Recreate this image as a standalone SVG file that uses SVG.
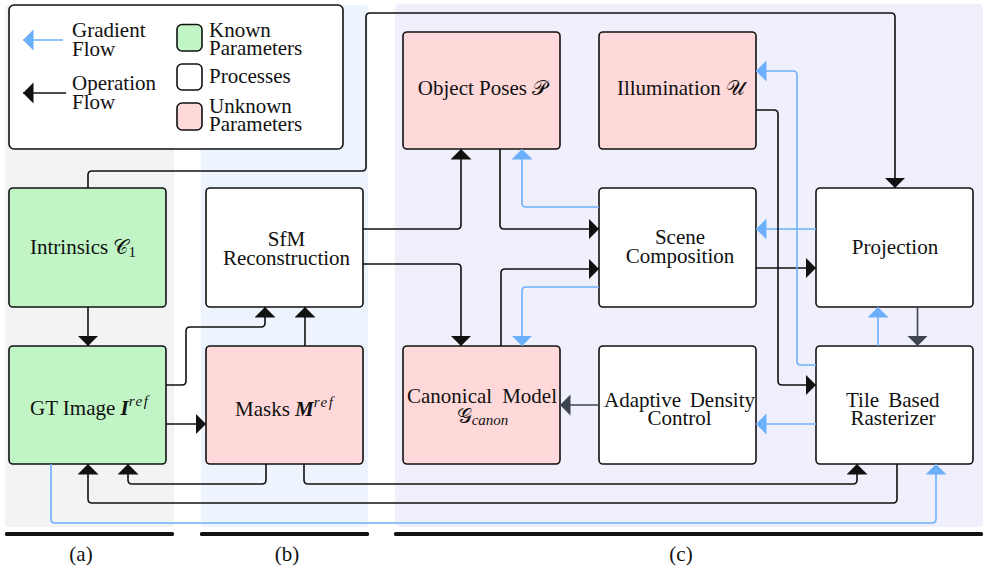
<svg xmlns="http://www.w3.org/2000/svg" width="993" height="570" viewBox="0 0 993 570">
<defs>
<style>
.t{font-family:"Liberation Serif","Times New Roman",serif;font-size:21px;fill:#111}
.m{text-anchor:middle}
.e{text-anchor:end}
.mt{font-family:"DejaVu Serif","DejaVu Sans","Liberation Serif",serif;font-style:normal}
.box{stroke:#111;stroke-width:1.6}
.known{fill:#c2f5c6}
.unk{fill:#ffd9d9}
.proc{fill:#fff}
.op{fill:none;stroke:#111;stroke-width:1.6;marker-end:url(#mk)}
.gr{fill:none;stroke:#6cb0fc;stroke-width:1.6;marker-end:url(#mb)}
.dg{fill:none;stroke:#3d4551;stroke-width:1.6;marker-end:url(#md)}
.it{font-style:italic}
.bi{font-style:italic;font-weight:bold}
.sup{font-style:italic;font-size:15px;letter-spacing:1.5px}
</style>
<marker id="mk" markerUnits="userSpaceOnUse" markerWidth="12" markerHeight="22" refX="10.5" refY="10.5" orient="auto"><path d="M0,0 L10.5,10.5 L0,21 Z" fill="#111"/></marker>
<marker id="mb" markerUnits="userSpaceOnUse" markerWidth="12" markerHeight="22" refX="10.5" refY="10.5" orient="auto"><path d="M0,0 L10.5,10.5 L0,21 Z" fill="#6cb0fc"/></marker>
<marker id="md" markerUnits="userSpaceOnUse" markerWidth="12" markerHeight="22" refX="10.5" refY="10.5" orient="auto"><path d="M0,0 L10.5,10.5 L0,21 Z" fill="#3d4551"/></marker>
</defs>
<rect width="993" height="570" fill="#fff"/>
<g id="panels">
<rect x="5" y="5" width="169" height="522" rx="4" fill="#f2f3f5"/>
<rect x="201" y="5" width="167" height="522" rx="4" fill="#edf4fd"/>
<rect x="395" y="4" width="588" height="523" rx="5" fill="#f0f0fc"/>
<rect x="5" y="532" width="169" height="4" rx="1.5" fill="#111"/>
<rect x="200" y="532" width="169" height="4" rx="1.5" fill="#111"/>
<rect x="394" y="532" width="589" height="4" rx="1.5" fill="#111"/>
<text class="t m" x="81" y="561">(a)</text>
<text class="t m" x="287" y="561">(b)</text>
<text class="t m" x="681" y="561">(c)</text>
</g>
<g id="legend">
<rect x="9" y="5" width="334" height="144" rx="5" fill="#fff" stroke="#111" stroke-width="1.6"/>
<path d="M63,40 H23" class="gr"/>
<path d="M66,93 H23" class="op"/>
<text class="t" x="72" y="37">Gradient</text>
<text class="t" x="72" y="56">Flow</text>
<text class="t" x="72" y="90">Operation</text>
<text class="t" x="72" y="109">Flow</text>
<rect x="177" y="24.5" width="25" height="26.5" rx="5" class="box known"/>
<rect x="177" y="64" width="25" height="26" rx="5" class="box proc"/>
<rect x="177" y="103" width="25" height="27" rx="5" class="box unk"/>
<text class="t" x="209" y="37">Known</text>
<text class="t" x="209" y="55">Parameters</text>
<text class="t" x="209" y="83">Processes</text>
<text class="t" x="209" y="113">Unknown</text>
<text class="t" x="209" y="131">Parameters</text>
</g>
<g id="intrinsics">
<rect x="9" y="188" width="157" height="119" rx="4" class="box known"/>
<text class="t" x="30" y="254">Intrinsics <tspan class="mt">𝒞</tspan><tspan font-size="15" dy="3">1</tspan></text>
</g>
<g id="sfm">
<rect x="206" y="188" width="157" height="119" rx="4" class="box proc"/>
<text class="t m" x="286.5" y="246">SfM</text>
<text class="t m" x="286.5" y="265">Reconstruction</text>
</g>
<g id="gtimage">
<rect x="9" y="346" width="157" height="118" rx="4" class="box known"/>
<text class="t" x="30" y="415">GT Image <tspan class="bi">I</tspan><tspan class="sup" dy="-9">ref</tspan></text>
</g>
<g id="masks">
<rect x="206" y="346" width="157" height="118" rx="4" class="box unk"/>
<text class="t" x="235" y="416">Masks <tspan class="bi">M</tspan><tspan class="sup" dy="-9">ref</tspan></text>
</g>
<g id="objectposes">
<rect x="403" y="32" width="157" height="117" rx="4" class="box unk"/>
<text class="t m" x="482.5" y="95">Object Poses <tspan class="mt">𝒫</tspan></text>
</g>
<g id="illumination">
<rect x="599" y="32" width="157" height="117" rx="4" class="box unk"/>
<text class="t m" x="681" y="95">Illumination <tspan class="mt">𝒰</tspan></text>
</g>
<g id="scene">
<rect x="599" y="188" width="157" height="119" rx="4" class="box proc"/>
<text class="t m" x="680" y="244">Scene</text>
<text class="t m" x="680" y="262.7">Composition</text>
</g>
<g id="projection">
<rect x="816" y="188" width="157" height="119" rx="4" class="box proc"/>
<text class="t m" x="895" y="253.5">Projection</text>
</g>
<g id="canonical">
<rect x="403" y="346" width="157" height="118" rx="4" class="box unk"/>
<text class="t" x="407" y="403">Canonical</text>
<text class="t e" x="557" y="403">Model</text>
<text class="t m" x="482.5" y="423"><tspan class="mt">𝒢</tspan><tspan class="it" font-size="15" dy="2">canon</tspan></text>
</g>
<g id="adc">
<rect x="599" y="346" width="157" height="118" rx="4" class="box proc"/>
<text class="t" x="604" y="406.5">Adaptive</text>
<text class="t e" x="755" y="406.5">Density</text>
<text class="t m" x="679.5" y="424.5">Control</text>
</g>
<g id="tile">
<rect x="816" y="346" width="157" height="118" rx="4" class="box proc"/>
<text class="t" x="846" y="406.5">Tile</text>
<text class="t e" x="939.5" y="406.5">Based</text>
<text class="t m" x="893" y="424.5">Rasterizer</text>
</g>
<g id="connectors">
<path class="op" d="M88,188 V175 Q88,171 92,171 H362 Q366,171 366,167 V17 Q366,13 370,13 H891 Q895,13 895,17 V188"/>
<path class="op" d="M88,307 V346"/>
<path class="op" d="M166,385 H182 Q186,385 186,381 V331 Q186,327 190,327 H261 Q265,327 265,323 V307"/>
<path class="op" d="M166,424 H206"/>
<path class="op" d="M305,346 V307"/>
<path class="op" d="M363,229 H457 Q461,229 461,225 V149"/>
<path class="op" d="M363,264 H457 Q461,264 461,268 V346"/>
<path class="op" d="M500,149 V225 Q500,229 504,229 H599"/>
<path class="op" d="M501,346 V273 Q501,269 505,269 H599"/>
<path class="gr" d="M599,207 H526 Q522,207 522,203 V149"/>
<path class="gr" d="M599,287 H526 Q522,287 522,291 V346"/>
<path class="op" d="M756,268 H816"/>
<path class="gr" d="M816,229 H756"/>
<path class="gr" d="M878,346 V307"/>
<path class="dg" d="M917.5,307 V346"/>
<path class="dg" d="M599,405 H560"/>
<path class="gr" d="M816,424 H756"/>
<path class="gr" d="M816,365 H801 Q797,365 797,361 V75 Q797,71 793,71 H756"/>
<path class="op" d="M756,110 H774 Q778,110 778,114 V381 Q778,385 782,385 H816"/>
<path class="op" d="M266,464 V480 Q266,484 262,484 H132 Q128,484 128,480 V464"/>
<path class="op" d="M304,464 V480 Q304,484 308,484 H853 Q857,484 857,480 V464"/>
<path class="op" d="M897,464 V499 Q897,503 893,503 H92 Q88,503 88,499 V464"/>
<path class="gr" d="M51,464 V519 Q51,523 55,523 H932 Q936,523 936,519 V464"/>
</g>
</svg>
